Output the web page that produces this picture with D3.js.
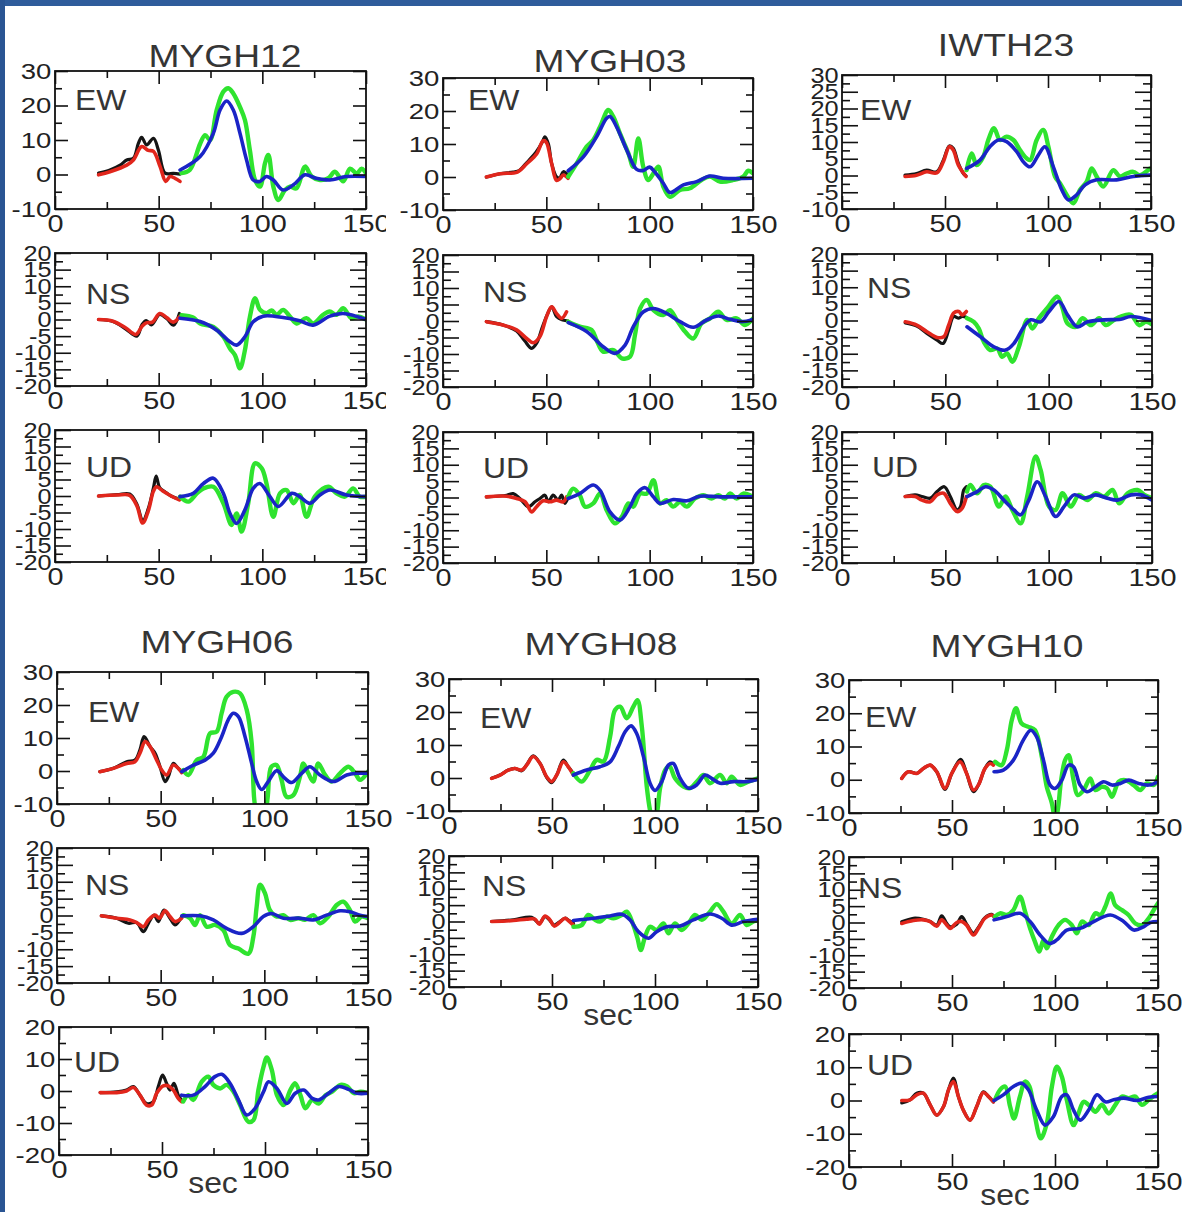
<!DOCTYPE html>
<html>
<head>
<meta charset="utf-8">
<script src="https://cdn.jsdelivr.net/npm/d3@7"></script>
<style>
  body { margin: 0; background: #fff; }
  svg { display: block; }
</style>
</head>
<body>
<div id="chart"></div>
<script>
// ---- traces: [time (s), velocity] ----
// black = observed (early), red = synthetic (early), green = observed (late), blue = synthetic (late)

const MYGH12_EW_black = [[21,0.4],[26.5,1.3],[31.4,2.7],[34.6,4.2],[37.8,4.7],[40.2,9],[41.8,10.8],[44.2,8.6],[47.5,10.5],[49.9,7],[53.1,0.4],[57.1,0.3],[60.3,0.1]];
const MYGH12_EW_red = [[21,-0.1],[26.5,0.8],[34.6,2.7],[37.8,4.2],[41.8,8.1],[45,7],[47.5,6.7],[50.7,2.3],[53.4,-2],[55.5,-0.6],[57.9,-1.1],[60.3,-2]];
const MYGH12_EW_green = [[61,0.4],[65,1.3],[70,8.9],[72.4,11.4],[74.8,10],[78,18.7],[81.2,24],[83.6,25],[86,23.5],[89.2,19.6],[91.6,15.8],[94,7],[96.5,-1.6],[98.9,-3.5],[101.3,3.3],[102.9,5.7],[105.3,-3.5],[107.7,-7.4],[110.9,-4.5],[113.3,-3.5],[116.5,-4],[120.6,2.3],[123.8,-0.6],[127.8,-1.6],[131.8,-1.1],[135,0.8],[139,-2],[142.3,1.7],[145.5,0.3],[147.9,1.7],[150,0.3]];
const MYGH12_EW_blue = [[60.3,1.3],[70,5.2],[76.4,12],[79.6,18.7],[82.8,21.3],[86,18.7],[89.2,12],[92.4,4.2],[95.6,-1.6],[98.8,-2],[102,-0.6],[105.3,-1.6],[110,-4.5],[115,-3],[120.6,-0.1],[126,-1.1],[132.6,-1.6],[140.6,-0.6],[150,-0.6]];

const MYGH12_NS_black = [[21,0],[28,-0.6],[34,-2.8],[39.5,-5],[42,-1.5],[44,-0.3],[46.5,-1.6],[50.5,1.5],[54,0.2],[57.2,-1.7],[60,1.8]];
const MYGH12_NS_red = [[21,0],[28,-0.5],[34,-2.5],[39,-4.5],[42,-2],[44,-1],[47,-0.8],[50.5,1.8],[54,0.5],[57,-0.8],[60,0.8]];
const MYGH12_NS_green = [[61,1.3],[66.6,0.6],[70,-1.2],[76.4,-2.2],[81.2,-5.2],[84.4,-8.7],[86.8,-10.7],[89.2,-14.7],[91.6,-9.2],[94,0.8],[96.5,6.4],[98.9,2.9],[102,1.9],[104.5,2.7],[106.9,1.4],[110,2.9],[113.3,0.9],[116.5,-1.2],[121.3,0.4],[124.5,-1.2],[129.3,1.4],[132.5,2.4],[135.7,1.4],[139,3.4],[143,0.4],[146.3,0.9],[150,0]];
const MYGH12_NS_blue = [[60.3,0.4],[70,-0.6],[78,-3.2],[84.4,-6.7],[87.6,-7.7],[91.6,-5.2],[95.6,-0.7],[100.4,1],[110,0.6],[118,-0.4],[124.5,-1.7],[132.6,1],[139,1.8],[150,0]];

const MYGH12_UD_black = [[21,0],[30,0.4],[36,0.6],[39.5,-2.5],[42.3,-7.5],[45,-3.8],[47.5,2.5],[48.8,6],[50.5,2.5],[53,1.3],[56,0],[60,-1]];
const MYGH12_UD_red = [[21,0],[30,0.3],[36,0.2],[39.5,-3],[42.3,-8.2],[45,-4.5],[47.5,1.5],[49,2.8],[52,1.5],[56,0],[60,-1.2]];
const MYGH12_UD_green = [[60.3,-0.2],[64.3,-1.7],[68.4,0.8],[71.6,2.3],[76.4,2.8],[81.2,-2.2],[85.2,-8.8],[87.6,-5.3],[90,-10.8],[93.2,-2.2],[96.5,9.9],[99.7,8.4],[102,3.8],[105.3,-6.3],[108.5,0.8],[111.7,1.8],[115,-2.2],[118,0.3],[121.3,-6.3],[125.3,-0.2],[131.8,2.8],[135.8,0.8],[139.8,-0.2],[143.8,2.3],[147,-0.2],[150,-0.2]];
const MYGH12_UD_blue = [[60.3,-0.2],[66.7,0.8],[71.6,3.8],[76.4,5.4],[81.2,0.8],[84.4,-5.3],[87.6,-8.3],[91.6,-4.2],[95.6,2.3],[98.8,3.8],[103.7,-0.2],[107.7,-3.2],[114.2,0.8],[118,-0.2],[123,-2.2],[127.8,0.3],[132.6,1.8],[140.6,0.3],[150,-0.2]];

const MYGH03_EW_black = [[21,0],[27.6,1],[34,1.5],[37,2],[40,4],[41.5,5],[45,7.5],[48,10.5],[49.3,12.2],[51,10],[52.6,4],[55,0],[56.5,-0.3],[58.2,1.6],[60.5,0.5]];
const MYGH03_EW_red = [[21,0],[27.6,1],[36,1.5],[40.5,4],[45.3,7],[48.5,11],[50,10.5],[52.6,4],[54.9,-1],[56.6,-0.5],[58.2,0.6],[60.5,-0.4]];
const MYGH03_EW_green = [[60.6,0.1],[64.7,4.1],[69.5,9.2],[72.7,11.2],[76,15.2],[80,20.3],[82.4,18.3],[85.6,13.2],[89.7,7.2],[92,3.1],[94.5,11.7],[96.9,3.1],[99.3,-0.9],[101.8,1.1],[104.2,3.1],[106.6,-2.9],[109.8,-6],[114.7,-3.9],[119.5,-3.4],[125.1,-0.9],[129.2,0.1],[134,-1.4],[140.5,-0.9],[145.3,0.1],[147.7,1.9],[150,1.1]];
const MYGH03_EW_blue = [[60.6,1.9],[67.9,6.1],[74.3,12.2],[79.2,17.8],[80.8,18.3],[84,15.2],[88.9,8.2],[93.7,2.3],[97,2],[100,3],[102.5,1.5],[106.6,-1.9],[109.8,-4.7],[116.3,-2.4],[122.7,-1.4],[129.2,0.3],[135.6,-0.4],[150,-0.4]];

const MYGH03_NS_black = [[21,-0.2],[29,-1.2],[35.6,-3],[39.5,-6],[42.9,-8.3],[45.5,-6.5],[48,-2],[50.5,2],[52.6,4.3],[55,1.3],[58,0.3],[60.5,0]];
const MYGH03_NS_red = [[21,-0.2],[29,-1.2],[35.6,-2.7],[40.5,-5.3],[43.7,-6.6],[46.9,-4.7],[50.1,1.3],[52.6,4.3],[54.9,2.3],[57.4,0.8],[59.8,2.8]];
const MYGH03_NS_green = [[60.6,-0.2],[66.2,-1.7],[71.9,-2.7],[74.3,-5.8],[77.5,-9.3],[82.4,-8.8],[86.5,-11.3],[90.5,-10.8],[92.9,-4.2],[95.4,3.8],[98.6,6.4],[101.8,3.3],[106.6,1.8],[109.8,3.3],[113.1,0.3],[117.1,-3.2],[121.1,-5.3],[125.1,-0.7],[129.2,0.8],[133.2,2.8],[137.3,0.3],[142.1,0.8],[146.1,-1.2],[150,0.8]];
const MYGH03_NS_blue = [[60.6,-0.5],[69.5,-3.2],[77.5,-7.8],[83.2,-9.8],[88.1,-7.3],[92.1,-1.7],[97,2.8],[101.8,3.8],[108.2,2.3],[114.7,-0.2],[121.1,-1.9],[127.6,0.3],[133.2,1.5],[138.9,0.5],[144.5,-0.2],[150,0.5]];

const MYGH03_UD_black = [[21,0.2],[30.8,0.7],[34,1.2],[37.2,-0.3],[41.3,-2.8],[44.5,-1.3],[46.9,-0.3],[49.3,0.7],[51,-1.3],[53.3,0.7],[55.7,-0.8],[57.4,0.7],[59,-1.8],[60.6,0.2]];
const MYGH03_UD_red = [[21,0.2],[30.8,0.4],[35.6,-0.3],[39.7,-1.3],[42.9,-4.4],[45.3,-2.8],[48.5,-1],[51.8,-1.3],[54.9,-0.8],[58.2,-1.3],[59.8,0.2]];
const MYGH03_UD_green = [[60.6,0.2],[63,2.7],[66.2,0.7],[68.7,-2.8],[72.7,-1.8],[76,1.2],[79.2,-3.9],[83.2,-7.9],[86.5,-5.9],[89.7,-1.8],[92.1,-2.8],[95.4,1.2],[98.6,1.2],[101.8,5.3],[105,-1.8],[108.2,-0.8],[111.4,-2.8],[114.7,-1.3],[117.9,-2.8],[121.9,-0.3],[126,0.7],[130,-0.3],[133.2,0.7],[136.4,-0.3],[138.9,1.2],[142.1,-0.3],[145.3,1.2],[150,0.2]];
const MYGH03_UD_blue = [[60.6,-0.3],[66.2,1.2],[72.7,3.8],[76,2.2],[80.8,-4.4],[85.6,-6.9],[90.5,-2.8],[93.7,1.2],[97.8,3],[101.8,0.2],[105,-1.8],[111.4,-0.6],[117.9,-1],[124.3,0.4],[134,0.2],[150,0.2]];

const IWTH23_EW_black = [[30.6,0.1],[36.2,0.6],[41.1,1.6],[46,1.1],[49.2,4.6],[52.1,8.8],[54,8.1],[56.5,3.6],[58.9,0.6],[60.2,-0.1]];
const IWTH23_EW_red = [[30.6,-0.3],[36.2,0.1],[41.1,1.1],[46,0.8],[49.2,4.1],[52.1,8.6],[54,7.6],[56.5,3.1],[60.2,-0.3]];
const IWTH23_EW_green = [[60.5,1.6],[63,6.6],[65.4,3.1],[68.6,5.6],[71,10.6],[73.8,14.1],[76.7,10.6],[79.9,11.6],[83.2,10.6],[86.4,7.6],[88.8,5.6],[91.3,4.6],[94.5,10.6],[97.7,13.6],[100.2,8.6],[103.4,-0.3],[105.8,-2.3],[109.1,-5.8],[112.3,-8.3],[115.5,-4.3],[118.8,-1.8],[121.2,2.1],[123.6,-0.3],[126.8,-3.3],[131.7,1.6],[134.9,-0.3],[138.2,0.6],[141.4,1.1],[144.6,0.1],[149.5,2.1]];
const IWTH23_EW_blue = [[60.5,2.1],[67,4.6],[71.8,8.6],[75.9,10.6],[79.9,10.1],[84.8,7.1],[88,4.1],[91.3,2.6],[95.3,6.1],[98.5,8.6],[102.6,2.6],[106.7,-4.3],[109.9,-7.3],[113.9,-5.8],[118,-2.8],[123.6,-1.3],[133.3,-1.3],[141.4,-0.3],[149.5,0.1]];

const IWTH23_NS_black = [[30.6,-0.7],[36.2,-1.7],[41.1,-3.9],[46,-5.9],[48.9,-6.9],[51.6,-2.9],[54,1.2],[56.5,0.7],[58.1,1.2],[60.2,1]];
const IWTH23_NS_red = [[30.6,-0.4],[36.2,-1.4],[41.1,-3.4],[46,-5.1],[49.2,-4.9],[51.6,-1.4],[54,2.2],[56.5,2.7],[58.1,1.7],[60.2,2.7]];
const IWTH23_NS_green = [[60.5,0.7],[63.8,-0.4],[66.2,-2.4],[68.6,-6.4],[71.8,-8.9],[75.1,-8.4],[77.5,-10.9],[79.9,-9.9],[82.4,-12.4],[85.6,-7.9],[89.6,0.2],[92.1,-2.4],[95.3,0.7],[99.3,3.7],[104.2,7.2],[106.7,3.7],[109.1,-0.9],[113.1,-1.9],[116.4,0.7],[120.4,-1.4],[124.4,0.7],[127.7,-1.4],[131.7,0.2],[134.9,1.2],[139.8,1.7],[143.8,-1.4],[147.1,-0.4],[150,-1.2]];
const IWTH23_NS_blue = [[60.5,-1.9],[67,-4.9],[73.5,-7.9],[79.1,-8.9],[83.2,-6.9],[88,-1.9],[91.3,0.2],[96.1,-0.4],[100.2,2.7],[105,5.7],[109.1,1.7],[113.9,-1.9],[118.8,-0.4],[126.9,0.2],[134.9,0.4],[139.8,1.2],[150,0]];

const IWTH23_UD_black = [[30.6,0.3],[35.4,0.8],[38.7,0.3],[42.7,-0.2],[46,1.8],[49.5,3.3],[52.4,0.3],[55.7,-3.8],[57.3,-2.8],[58.9,2.3],[60.2,3.3]];
const IWTH23_UD_red = [[30.6,0.3],[35.4,0.3],[38.7,-0.8],[42.7,-1.3],[46,0.8],[49.2,1.3],[52.4,-1.8],[55.7,-4.3],[58.1,-3.3],[60.2,0.3]];
const IWTH23_UD_green = [[60.5,1.8],[62.1,3.8],[65.4,1.3],[68.6,3.8],[71.8,3.3],[75.9,-2.8],[79.1,0.3],[82.4,-3.8],[86.4,-7.9],[89.6,0.3],[93.7,12.5],[96.1,8.4],[100.2,-2.8],[103.4,-3.8],[106.7,1.3],[110.7,-2.8],[114.7,0.8],[118.8,-0.8],[122.8,1.3],[126.8,0.3],[130.9,2.3],[134.1,-1.8],[138.2,1.3],[143,2.3],[146.3,0.8],[150,-0.2]];
const IWTH23_UD_blue = [[60.5,0.3],[65.4,1.8],[69.4,3.3],[73.5,2.3],[78.3,-0.8],[83.2,-3.8],[86.4,-5.3],[90.4,-0.8],[94.5,4.8],[98.5,0.3],[103.4,-5.8],[107.4,-2.8],[112.3,0.8],[117.1,-0.2],[122.8,0.8],[128.4,-0.2],[133.3,-0.8],[139.8,0.8],[144.6,0.8],[150,-0.8]];

const MYGH06_EW_black = [[20.7,-0.2],[27.2,0.8],[33.6,2.8],[37.6,3.3],[40,6.4],[42,10.4],[44.9,7.4],[47.3,5.4],[49.7,1.3],[52.1,-3.2],[53.7,-1.7],[56.1,2.3],[58.5,0.8],[60.2,-0.2]];
const MYGH06_EW_red = [[20.7,-0.2],[27.2,0.8],[33.6,2.3],[37.6,2.8],[40,5.4],[42.5,8.9],[44.9,7.4],[48.1,3.3],[50.5,0.3],[52.9,-1.2],[56.1,1.8],[58.5,0.8],[60.2,-0.5]];
const MYGH06_EW_green = [[60.9,0.3],[63.4,-1.2],[67.4,3.3],[70.6,4.3],[73.8,11.4],[77,11.9],[79.4,17.5],[81.8,22.5],[85,24],[88.3,23.5],[91.5,18.5],[93.9,8.4],[95.2,-9],[97.5,-17],[100,-15],[101.6,-8],[103.4,1.3],[105.9,1.8],[108.3,-2.7],[110.7,-7.8],[114,-7.3],[117.2,-1.7],[118.8,2.3],[121.2,-0.7],[123.6,-3.2],[126,2.3],[129.3,-1.2],[132.5,-3.2],[136.5,-0.7],[140.6,1.3],[143.8,-0.7],[146.2,-2.7],[150,-0.2]];
const MYGH06_EW_blue = [[60.2,-0.2],[65.8,1.8],[71.4,3.3],[75.4,5.4],[79.4,10.4],[82.6,15.5],[85,17.5],[87.5,16.5],[90.7,10.4],[93.9,2.3],[96.3,-3.2],[98.7,-5.6],[101.9,-3.2],[105.9,0.1],[109.9,-2.2],[113.2,-3.5],[118,-0.7],[122,1.3],[126.8,-1.2],[133.3,-3.2],[139.7,-1.2],[144.6,-0.7],[150,-0.7]];

const MYGH06_NS_black = [[21.4,-0.1],[28.8,-0.8],[34.4,-2.3],[38.4,-2.1],[41.7,-4.8],[44.1,-2.3],[46.8,0.1],[48.9,-1.8],[51.6,1.6],[54.5,-0.8],[57,-2.8],[60.2,-0.3]];
const MYGH06_NS_red = [[21.4,-0.1],[28.8,-0.8],[35.2,-1.3],[38.4,-2.1],[41.7,-3.3],[44.1,-1.3],[47.3,0.1],[49.4,-0.8],[52.1,1.4],[54.5,-0.3],[57,-1.8],[60.2,-0.8]];
const MYGH06_NS_green = [[60.9,0.1],[64.2,-0.8],[66.6,-2.8],[69,0.1],[72.2,-3.3],[76.2,-2.8],[80.2,-4.3],[83.5,-8.8],[87.5,-9.8],[92.3,-11.3],[94.7,-6.3],[96.3,2.6],[97.9,9.1],[100.3,6.6],[102.7,1.6],[106,-0.3],[109.2,0.1],[112.4,-1.3],[116.4,-0.8],[119.6,-1.3],[123.6,0.1],[126.9,-2.3],[130.9,-0.3],[134.9,3.1],[138.1,4.1],[141.3,1.6],[143.8,-1.8],[147,-0.3],[150,-0.8]];
const MYGH06_NS_blue = [[60.2,-0.1],[69,-0.1],[75.4,-1.3],[81.8,-3.8],[89.1,-5.3],[94.7,-3.3],[99.5,-0.3],[103.5,0.6],[109.2,-0.8],[117.2,-0.8],[123.6,-1.3],[130,0.1],[136.5,1.4],[141.3,1.1],[146.2,0.1],[150,-0.3]];

const MYGH06_UD_black = [[20,-0.5],[28,-0.3],[32.8,0.3],[36.1,1.4],[39.3,-1.3],[42.5,-3.9],[45.8,-3.3],[48.2,1.4],[50.3,5],[52.2,2.4],[53.9,0.3],[55.8,2.4],[57.9,-1.3],[59.5,-2.8]];
const MYGH06_UD_red = [[20,-0.5],[28,-0.5],[32.8,0],[36.1,1.1],[39.3,-1.3],[42.5,-4.4],[45,-4.4],[47.4,-0.7],[50.6,1.6],[53.1,1.6],[55.5,0.3],[57.9,-2.3],[59.5,-3.3]];
const MYGH06_UD_green = [[60.3,-3.3],[62.8,-1.3],[65.2,-2.8],[69.3,2.9],[72.5,4.5],[74.9,1.9],[78.2,0.8],[81.4,1.9],[84.7,-0.2],[87.9,-4.4],[91.9,-9.6],[94.4,-9.1],[96.8,0.3],[99.3,7.6],[100.9,10.5],[103.3,6.6],[105.8,-1.3],[109,-4.4],[112.3,0.3],[114.7,2.4],[117.2,-1.3],[119.6,-5.4],[122.9,-2.8],[126.1,-3.9],[129.4,-1.3],[132.6,-0.2],[136.7,1.9],[139.9,1.4],[143.2,-0.7],[146.4,-0.2],[150,-0.7]];
const MYGH06_UD_blue = [[59.5,-1.3],[65.2,-1.3],[70.9,1.4],[75.7,4.5],[79,5.2],[83,2.4],[87.1,-2.8],[91.1,-7.5],[95.2,-5.4],[99.3,-0.2],[101.7,2.9],[105.8,0.8],[110.6,-3.9],[114.7,-0.7],[118.8,0.3],[122.9,-2.3],[126.1,-2.8],[130.9,-0.7],[135.8,1.4],[140.6,0.5],[144.7,-0.7],[150,-0.7]];

const MYGH08_EW_black = [[20.7,-0.1],[24.8,0.9],[28.8,2.4],[32,2.9],[35.3,2.2],[37.7,4],[40.9,6.7],[44.2,4.4],[47.4,0.2],[49.8,-1.4],[52.3,0.9],[55.5,5.4],[57.9,3.4],[60.4,1.4]];
const MYGH08_EW_red = [[20.7,-0.1],[24.8,0.9],[28.8,2.4],[32,2.9],[35.3,2.4],[37.7,3.9],[40.9,6.5],[44.2,4.4],[47.4,0.4],[49.8,-1.1],[52.3,0.9],[55.5,4.9],[57.9,3.4],[60.4,0.9]];
const MYGH08_EW_green = [[60.4,1.4],[64.4,-1.1],[68.5,2.4],[71.7,5.5],[75,5],[78.2,12.5],[80.6,20.6],[83.1,21.6],[86.3,18.1],[89.5,21.6],[91.5,23.6],[93.6,15.6],[96,-2.6],[97.8,-10.5],[99.4,-14],[101,-10.5],[102.5,-3],[104.9,2.4],[107,3.6],[109.7,-0.1],[113.8,-2.6],[117,-3.1],[121,-0.6],[123.5,0.9],[126.7,-1.6],[131.6,0.9],[134.8,-1.6],[137.2,0.4],[141.3,-2.1],[145.3,-1.1],[150,-0.1]];
const MYGH08_EW_blue = [[60.4,0.9],[66.8,2.4],[73.3,3.4],[78.2,4.9],[82.2,9.5],[85.5,14],[88.4,15.8],[91.1,13.5],[94.4,6.5],[97.6,-1.6],[100,-3.8],[103.3,-1.1],[106.5,3.9],[108.9,4.4],[112.2,-0.1],[116.2,-3.1],[120.2,-2.1],[124.3,0.9],[127.5,-0.1],[131.6,-1.6],[138,-1.1],[144.5,-1.1],[150,-0.4]];

const MYGH08_NS_black = [[20.7,0],[31.2,0.5],[40.1,1.3],[43.8,-0.6],[46.6,1.5],[49,0.3],[51,-1.1],[53.5,-0.2],[56.3,1],[57.9,0.4],[60.4,-0.6]];
const MYGH08_NS_red = [[20.7,0],[31.2,0.3],[37.7,0.7],[41.7,0.7],[43.8,-0.8],[46.6,1.7],[49,0.5],[51,-1.4],[53.5,-0.4],[56.3,1],[57.9,0.3],[60.4,-1.1]];
const MYGH08_NS_green = [[60.4,-1.6],[64.4,-1.1],[67.6,2],[70.9,0.5],[73.3,0],[76.5,1.5],[79.8,1],[83.8,2],[86.3,3],[89.5,-1.1],[91.5,-5.1],[93.1,-8.7],[95.2,-4.6],[97.6,-1.6],[100.8,-2.6],[104.1,-0.6],[106.5,-3.6],[109.7,-0.6],[113,-2.6],[116.2,-0.6],[119.4,2],[122.7,0.5],[126.7,3],[130,5.3],[133.2,3],[137.2,-0.6],[141.3,2],[144.5,-1.1],[147.7,0],[150,0.5]];
const MYGH08_NS_blue = [[60.4,0.3],[70.1,1],[78.2,1.7],[83.8,2.2],[87.9,0.5],[91.9,-3.1],[96.8,-5.1],[100.8,-3.1],[105.7,-1.6],[112.2,-1.4],[118.6,0.5],[126.7,2.3],[132.4,1],[137.2,-1.1],[142.9,0],[150,0.7]];

const MYGH10_EW_black = [[25.6,0.4],[28.8,2.4],[32.9,1.9],[36.1,3.4],[39.4,4.4],[42.6,2.4],[46.6,-2.9],[49.9,1.9],[54.2,6.1],[57.1,1.9],[60.4,-3.6],[62.8,-1.6],[66,3.4],[68.5,5.4],[70.1,4.6]];
const MYGH10_EW_red = [[25.6,0.4],[28.8,2.4],[32.9,1.9],[36.1,3.4],[39.4,4.4],[42.6,2.4],[46.6,-2.6],[49.9,1.9],[53.9,5.4],[57.1,1.9],[60.4,-3.1],[62.8,-1.6],[66,3.4],[68.5,4.9],[70.1,4.4]];
const MYGH10_EW_green = [[70.9,5.4],[74.1,4.4],[76.6,8.9],[79,17.9],[81.1,21.5],[83.8,16.9],[87.1,15.9],[90.3,14.9],[93.6,6.9],[96,-2.1],[98.5,-7.1],[100.2,-12.5],[101.6,-8],[102.8,-1],[104.9,5.9],[106.6,7.4],[109,-0.1],[111,-4.6],[113.9,-3.1],[117.1,0.4],[119.6,-3.1],[122.8,-2.1],[125.3,-2.6],[127.7,-5.1],[130.9,-0.6],[134.1,-0.1],[138.2,-1.6],[141.4,-3.1],[144.6,-1.1],[147.9,-1.6],[150,0.9]];
const MYGH10_EW_blue = [[70.4,2.4],[74.9,2.9],[79.8,5.9],[84.6,11.9],[88.2,14.9],[91.1,12.9],[94.4,5.9],[97.6,-1.6],[100.1,-2.6],[103.3,-0.1],[106.6,4.4],[109,3.9],[112.2,-1.6],[115.5,-3.6],[119.6,-2.1],[123.6,-0.6],[127.7,-1.6],[131.7,-1.1],[135.8,-0.1],[140.6,-1.1],[145.5,-1.6],[150,-0.6]];

const MYGH10_NS_black = [[25.6,0.2],[31.3,1.3],[36.1,1],[39.4,0.3],[42.6,-0.8],[45,2],[47.5,-0.3],[49.1,-1.3],[52.3,-0.5],[54.7,1.8],[57.1,-0.5],[60.4,-3.3],[62.8,-1.5],[66,1.5],[69.3,2.5],[70.4,1.8]];
const MYGH10_NS_red = [[25.6,-0.3],[31.3,0.6],[36.1,0.8],[39.4,0.3],[42.6,-1.1],[45,0.8],[47.5,-0.8],[49.1,-1.8],[52.3,0],[54.7,0.3],[57.1,-0.8],[60.4,-3.8],[62.8,-1.8],[66,1.3],[69.3,2.3],[70.4,1.8]];
const MYGH10_NS_green = [[70.9,1.8],[73.3,2.8],[76.6,2.3],[79.8,3.8],[83,7.9],[85.5,3.3],[87.9,-1.8],[90.3,-5.9],[92.4,-8.9],[94.4,-5.3],[96,-7.9],[98.5,-4.3],[101.7,-0.8],[104.9,0.8],[108.2,-0.8],[110.6,-3.3],[113.1,0.3],[116.3,-0.8],[119.6,2.8],[122,2.3],[124.4,4.8],[127.1,8.9],[129.2,5.3],[132.5,3.8],[135.7,2.3],[139,-0.3],[142.2,-0.8],[145.5,1.3],[147.9,3.8],[150,5.9]];
const MYGH10_NS_blue = [[70.4,0.8],[76.6,1.8],[83,2.8],[87.9,0.3],[92.7,-3.8],[97.3,-6.4],[100.9,-5.3],[105.7,-2.3],[112.2,-1.8],[118.8,0.3],[126.9,2.3],[133.3,0.3],[138.2,-2.3],[143,-1.3],[146.3,0],[150,0.3]];

const MYGH10_UD_black = [[25.6,-0.7],[29.6,0.2],[32.9,2.2],[36.1,2.2],[39.4,-1.3],[42.6,-4.4],[45.9,-1.8],[48.3,3.2],[50.7,6.7],[53.1,1.2],[55.5,-2.9],[58.8,-5.9],[62,-1.8],[65.2,2.6],[67.7,1.2],[70.1,-0.4]];
const MYGH10_UD_red = [[25.6,0],[29.6,0.2],[32.9,1.7],[36.1,2.2],[39.4,-1.3],[42.6,-4.4],[45.9,-1.8],[48.3,3.2],[50.7,5.7],[53.1,1.2],[55.5,-2.9],[58.8,-5.9],[62,-1.8],[65.2,2.4],[67.7,1.2],[70.1,-0.4]];
const MYGH10_UD_green = [[70.9,0.2],[73.3,3.2],[75.8,4.2],[78.2,-1.8],[80.1,-5.4],[83,1.2],[85.5,5.7],[87.6,4.2],[90.3,-4.9],[93.1,-11.4],[96,-6.9],[98.5,4.2],[100.9,10.2],[103.3,7.2],[105.7,0.2],[109,-7.4],[111.4,-3.9],[113.9,-0.4],[117.1,-1.8],[119.6,-3.4],[122.8,-1.3],[126.1,-3.9],[129.3,-1.3],[132.5,1.2],[135.8,0.7],[139,1.2],[142.2,-1.3],[145.5,0.2],[148.7,1.7],[150,2.2]];
const MYGH10_UD_blue = [[70.4,0],[74.9,1.7],[79.8,4.2],[83.8,5.2],[87.1,3.2],[91.1,-2.9],[95.2,-7.4],[99.2,-4.9],[103.3,1.2],[105.7,1.7],[109,-2.9],[112.2,-5.9],[116.3,-2.9],[120.4,1.7],[124.4,-0.4],[128.5,0.2],[133.3,0.7],[139.8,0],[145.5,1],[150,1.2]];

// tick values
const xMajor = [0, 50, 100, 150];
const xMinor = [25, 75, 125];

// ---- layout ----
const W = 1182, H = 1212;
const SX = 1.2;   // lettering in the source figure is stretched horizontally
const FONT = "'Liberation Sans', Arial, Helvetica, sans-serif";
const plain = d => String(d);   // hyphen minus, like the original

const yTypes = {
  ew:  { domain: [-10, 30], major: [-10, 0, 10, 20, 30], minor: [-5, 5, 15, 25], majLen: 13, minLen: 7, fs: 22, sx: 1.25 },
  ew5: { domain: [-10, 30], major: d3.range(-10, 31, 5), minor: d3.range(-7.5, 30, 5), majLen: 16, minLen: 8, fs: 22, sx: 1.15 },
  s5:  { domain: [-20, 20], major: d3.range(-20, 21, 5), minor: d3.range(-17.5, 20, 5), majLen: 16, minLen: 8, fs: 22, sx: 1.15 },
  s10: { domain: [-20, 20], major: [-20, -10, 0, 10, 20], minor: [-15, -5, 5, 15], majLen: 13, minLen: 7, fs: 22, sx: 1.25 }
};

const titles = [
  { name: "MYGH12", x: 225, y: 67 },
  { name: "MYGH03", x: 610, y: 72 },
  { name: "IWTH23", x: 1006, y: 56 },
  { name: "MYGH06", x: 217, y: 653 },
  { name: "MYGH08", x: 601, y: 655 },
  { name: "MYGH10", x: 1007, y: 657 }
];

const secLabels = [[213, 1193], [608, 1025], [1005, 1205]];

// clipX: right edge (page px) beyond which the x tick labels are cut, as in the source
const panels = [
  { comp: "EW", box: [55, 71, 366, 209],  y: "ew",  lab: [20, 39], clipX: 386, data: [MYGH12_EW_black, MYGH12_EW_red, MYGH12_EW_green, MYGH12_EW_blue] },
  { comp: "NS", box: [55, 253, 366, 386], y: "s5",  lab: [31, 51], clipX: 386, data: [MYGH12_NS_black, MYGH12_NS_red, MYGH12_NS_green, MYGH12_NS_blue] },
  { comp: "UD", box: [55, 430, 366, 562], y: "s5",  lab: [31, 47], clipX: 386, data: [MYGH12_UD_black, MYGH12_UD_red, MYGH12_UD_green, MYGH12_UD_blue] },
  { comp: "EW", box: [443, 78, 753, 210], y: "ew",  lab: [25, 32], data: [MYGH03_EW_black, MYGH03_EW_red, MYGH03_EW_green, MYGH03_EW_blue] },
  { comp: "NS", box: [443, 255, 753, 387], y: "s5", lab: [40, 47], data: [MYGH03_NS_black, MYGH03_NS_red, MYGH03_NS_green, MYGH03_NS_blue] },
  { comp: "UD", box: [443, 432, 753, 563], y: "s5", lab: [40, 46], data: [MYGH03_UD_black, MYGH03_UD_red, MYGH03_UD_green, MYGH03_UD_blue] },
  { comp: "EW", box: [842, 75, 1151, 209], y: "ew5", lab: [18, 45], data: [IWTH23_EW_black, IWTH23_EW_red, IWTH23_EW_green, IWTH23_EW_blue] },
  { comp: "NS", box: [842, 254, 1152, 387], y: "s5", lab: [25, 44], data: [IWTH23_NS_black, IWTH23_NS_red, IWTH23_NS_green, IWTH23_NS_blue] },
  { comp: "UD", box: [842, 432, 1152, 563], y: "s5", lab: [30, 45], data: [IWTH23_UD_black, IWTH23_UD_red, IWTH23_UD_green, IWTH23_UD_blue] },
  { comp: "EW", box: [57, 672, 368, 804],  y: "ew",  lab: [31, 50], data: [MYGH06_EW_black, MYGH06_EW_red, MYGH06_EW_green, MYGH06_EW_blue] },
  { comp: "NS", box: [57, 848, 368, 983],  y: "s5",  lab: [28, 47], data: [MYGH06_NS_black, MYGH06_NS_red, MYGH06_NS_green, MYGH06_NS_blue] },
  { comp: "UD", box: [59, 1027, 368, 1155], y: "s10", lab: [15, 45], data: [MYGH06_UD_black, MYGH06_UD_red, MYGH06_UD_green, MYGH06_UD_blue] },
  { comp: "EW", box: [449, 679, 758, 811], y: "ew",  lab: [31, 49], data: [MYGH08_EW_black, MYGH08_EW_red, MYGH08_EW_green, MYGH08_EW_blue] },
  { comp: "NS", box: [449, 856, 758, 987], y: "s5",  lab: [33, 40], data: [MYGH08_NS_black, MYGH08_NS_red, MYGH08_NS_green, MYGH08_NS_blue] },
  { comp: "EW", box: [849, 680, 1158, 813], y: "ew", lab: [16, 47], data: [MYGH10_EW_black, MYGH10_EW_red, MYGH10_EW_green, MYGH10_EW_blue] },
  { comp: "NS", box: [849, 857, 1158, 988], y: "s5", lab: [9, 41],  data: [MYGH10_NS_black, MYGH10_NS_red, MYGH10_NS_green, MYGH10_NS_blue] },
  { comp: "UD", box: [849, 1034, 1158, 1167], y: "s10", lab: [18, 41], data: [MYGH10_UD_black, MYGH10_UD_red, MYGH10_UD_green, MYGH10_UD_blue] }
];

// black, red, green, blue (drawn in this order)
const traceStyle = [
  { color: "#151515", width: 3.2 },
  { color: "#e1261c", width: 3.6 },
  { color: "#2fe32f", width: 4.4 },
  { color: "#1a24c6", width: 3.6 }
];

const svg = d3.select("#chart").append("svg")
  .attr("width", W)
  .attr("height", H)
  .attr("font-family", FONT);

svg.append("rect").attr("width", W).attr("height", H).attr("fill", "#fff");

// blue frame of the slide
svg.append("rect").attr("x", 0).attr("y", 0).attr("width", W).attr("height", 6).attr("fill", "#2f5c9b");
svg.append("rect").attr("x", 0).attr("y", 0).attr("width", 5).attr("height", H).attr("fill", "#2a5593");

// station titles
titles.forEach(t => {
  svg.append("text")
    .attr("transform", `translate(${t.x},${t.y}) scale(${SX},1)`)
    .attr("text-anchor", "middle")
    .attr("font-size", 31)
    .attr("fill", "#353535")
    .text(t.name);
});

secLabels.forEach(([x, y]) => {
  svg.append("text")
    .attr("transform", `translate(${x},${y}) scale(1.1,1)`)
    .attr("text-anchor", "middle")
    .attr("font-size", 29)
    .attr("fill", "#353535")
    .text("sec");
});

let styleAxis = (g, fs) => {
  g.select(".domain").remove();
  g.attr("font-family", FONT).attr("font-size", fs);
  g.selectAll("line").attr("stroke", "#111").attr("stroke-width", 1.6);
  g.selectAll("text").attr("fill", "#222");
};

panels.forEach((p, i) => {
  let [x0, y0, x1, y1] = p.box;
  let w = x1 - x0, h = y1 - y0;
  let yt = yTypes[p.y];

  let x = d3.scaleLinear().domain([0, 150]).range([0, w]);
  let y = d3.scaleLinear().domain(yt.domain).range([h, 0]);

  let g = svg.append("g").attr("transform", `translate(${x0},${y0})`);

  g.append("clipPath").attr("id", "clip" + i)
    .append("rect").attr("width", w).attr("height", h);

  // waveforms
  let line = d3.line()
    .x(d => x(d[0]))
    .y(d => y(d[1]))
    .curve(d3.curveCatmullRom.alpha(0.5));

  let traces = g.append("g").attr("clip-path", `url(#clip${i})`);
  p.data.forEach((d, k) => {
    traces.append("path")
      .datum(d)
      .attr("d", line)
      .attr("fill", "none")
      .attr("stroke", traceStyle[k].color)
      .attr("stroke-width", traceStyle[k].width)
      .attr("stroke-linejoin", "round")
      .attr("stroke-linecap", "round");
  });

  // bottom axis with labels
  let bottom = g.append("g").attr("transform", `translate(0,${h})`)
    .call(d3.axisBottom(x).tickValues(xMajor).tickSize(-13).tickPadding(6).tickFormat(plain))
    .call(a => styleAxis(a, 24))
    .call(a => a.selectAll("text").attr("transform", `scale(${SX},1)`));
  if (p.clipX) {
    g.append("clipPath").attr("id", "lclip" + i)
      .append("rect").attr("x", -60).attr("y", -20).attr("width", p.clipX - x0 + 60).attr("height", 60);
    bottom.attr("clip-path", `url(#lclip${i})`);
  }
  g.append("g").attr("transform", `translate(0,${h})`)
    .call(d3.axisBottom(x).tickValues(xMinor).tickSize(-7).tickFormat(""))
    .call(a => styleAxis(a, 24));

  // top axis
  g.append("g")
    .call(d3.axisTop(x).tickValues(xMajor).tickSize(-13).tickFormat(""))
    .call(a => styleAxis(a, 24));
  g.append("g")
    .call(d3.axisTop(x).tickValues(xMinor).tickSize(-7).tickFormat(""))
    .call(a => styleAxis(a, 24));

  // left axis with labels
  g.append("g")
    .call(d3.axisLeft(y).tickValues(yt.major).tickSize(-yt.majLen).tickPadding(3).tickFormat(plain))
    .call(a => styleAxis(a, yt.fs))
    .call(a => a.selectAll("text").attr("transform", `scale(${yt.sx},1)`));
  g.append("g")
    .call(d3.axisLeft(y).tickValues(yt.minor).tickSize(-yt.minLen).tickFormat(""))
    .call(a => styleAxis(a, yt.fs));

  // right axis
  g.append("g").attr("transform", `translate(${w},0)`)
    .call(d3.axisRight(y).tickValues(yt.major).tickSize(-yt.majLen).tickFormat(""))
    .call(a => styleAxis(a, yt.fs));
  g.append("g").attr("transform", `translate(${w},0)`)
    .call(d3.axisRight(y).tickValues(yt.minor).tickSize(-yt.minLen).tickFormat(""))
    .call(a => styleAxis(a, yt.fs));

  // frame
  g.append("rect")
    .attr("width", w).attr("height", h)
    .attr("fill", "none")
    .attr("stroke", "#111")
    .attr("stroke-width", 1.8);

  // component label
  g.append("text")
    .attr("transform", `translate(${p.lab[0]},${p.lab[1]}) scale(1.1,1)`)
    .attr("font-size", 29)
    .attr("fill", "#353535")
    .text(p.comp);
});
</script>
</body>
</html>
